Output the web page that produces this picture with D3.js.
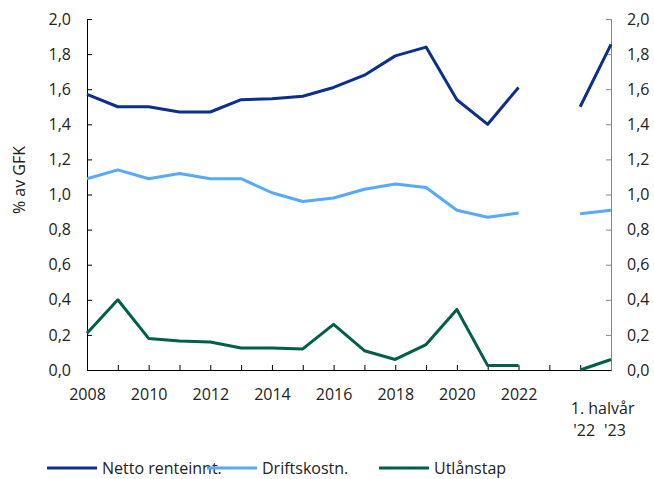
<!DOCTYPE html>
<html>
<head>
<meta charset="utf-8">
<script src="https://cdn.jsdelivr.net/npm/d3@7"></script>
<style>
  body { margin: 0; background: #fff; }
  svg text { font-family: "Open Sans", sans-serif; fill: #222; }
</style>
</head>
<body>
<div id="chart"></div>
<script>
// categories: 2008-2022, an empty slot, then 1. halvår '22 and '23
const categories = ['2008', '2009', '2010', '2011', '2012', '2013', '2014', '2015',
  '2016', '2017', '2018', '2019', '2020', '2021', '2022', '', "'22", "'23"];
const xTickLabels = ['2008', '2010', '2012', '2014', '2016', '2018', '2020', '2022'];

const nettoRenteinnt = [1.57, 1.50, 1.50, 1.47, 1.47, 1.54, 1.545, 1.56, 1.61, 1.68,
  1.79, 1.84, 1.54, 1.40, 1.61, null, 1.50, 1.855];
const driftskostn = [1.09, 1.14, 1.09, 1.12, 1.09, 1.09, 1.01, 0.96, 0.98, 1.03,
  1.06, 1.04, 0.91, 0.87, 0.895, null, 0.89, 0.91];
const utlanstap = [0.21, 0.40, 0.18, 0.165, 0.16, 0.125, 0.125, 0.12, 0.26, 0.11,
  0.06, 0.145, 0.345, 0.025, 0.025, null, 0.0, 0.06];

const yTicks = [0, 0.2, 0.4, 0.6, 0.8, 1.0, 1.2, 1.4, 1.6, 1.8, 2.0];

const series = [
  { name: 'Netto renteinnt.', values: nettoRenteinnt, color: '#0a2f8c' },
  { name: 'Driftskostn.', values: driftskostn, color: '#57a9ff' },
  { name: 'Utlånstap', values: utlanstap, color: '#005f4a' }
];

const width = 654, height = 479;
const margin = { top: 19, right: 43, bottom: 109, left: 87 };
const innerW = width - margin.left - margin.right;
const innerH = height - margin.top - margin.bottom;
const fontSize = '16px';

const svg = d3.select('#chart').append('svg')
  .attr('width', width)
  .attr('height', height);

const g = svg.append('g')
  .attr('transform', `translate(${margin.left},${margin.top})`);

const x = d3.scalePoint()
  .domain(d3.range(categories.length))
  .range([0, innerW]);

const y = d3.scaleLinear()
  .domain([0, 2])
  .range([innerH, 0]);

const fmt = d => d3.format('.1f')(d).replace('.', ',');

// left axis
g.append('g')
  .call(d3.axisLeft(y).tickValues(yTicks).tickSize(-5).tickPadding(16).tickFormat(fmt))
  .call(a => a.selectAll('text').style('font-size', fontSize))
  .call(a => a.selectAll('line, path').attr('stroke', '#000'));

// right axis
g.append('g')
  .attr('transform', `translate(${innerW},0)`)
  .call(d3.axisRight(y).tickValues(yTicks).tickSize(-5).tickPadding(16).tickFormat(fmt))
  .call(a => a.selectAll('text').style('font-size', fontSize))
  .call(a => a.selectAll('line, path').attr('stroke', '#888'));

// bottom axis
g.append('g')
  .attr('transform', `translate(0,${innerH})`)
  .call(d3.axisBottom(x).tickSize(-5).tickSizeOuter(0).tickPadding(19)
    .tickFormat(i => xTickLabels.includes(categories[i]) ? categories[i] : ''))
  .call(a => a.selectAll('text').style('font-size', fontSize))
  .call(a => a.selectAll('line, path').attr('stroke', '#000'))
  .call(a => a.selectAll('.tick').filter(i => i === 0 || i === categories.length - 1).select('line').remove());

// half-year labels
const halfIdx = [16, 17];
g.append('g').selectAll('text')
  .data(halfIdx)
  .enter().append('text')
  .attr('x', i => x(i) + 4)
  .attr('y', innerH + 66)
  .attr('text-anchor', 'middle')
  .style('font-size', fontSize)
  .text(i => categories[i]);

g.append('text')
  .attr('x', (x(16) + x(17)) / 2 + 7)
  .attr('y', innerH + 44)
  .attr('text-anchor', 'middle')
  .style('font-size', fontSize)
  .text('1. halvår');

// y label
svg.append('text')
  .attr('transform', `translate(25,180) rotate(-90)`)
  .attr('text-anchor', 'middle')
  .style('font-size', fontSize)
  .text('% av GFK');

// lines
const line = d3.line()
  .defined(d => d != null)
  .x((d, i) => x(i))
  .y(d => y(d));

g.selectAll('.series')
  .data(series)
  .enter().append('path')
  .attr('class', 'series')
  .attr('fill', 'none')
  .attr('stroke', d => d.color)
  .attr('stroke-width', 3)
  .attr('stroke-linejoin', 'round')
  .attr('d', d => line(d.values));

// legend
const legendX = [47, 207, 379];
const legend = svg.append('g').selectAll('g')
  .data(series)
  .enter().append('g')
  .attr('transform', (d, i) => `translate(${legendX[i]},468)`);

legend.append('line')
  .attr('x1', 0).attr('x2', 50)
  .attr('stroke', d => d.color)
  .attr('stroke-width', 3);

legend.append('text')
  .attr('x', 55)
  .attr('dy', '0.35em')
  .style('font-size', fontSize)
  .text(d => d.name);
</script>
</body>
</html>
